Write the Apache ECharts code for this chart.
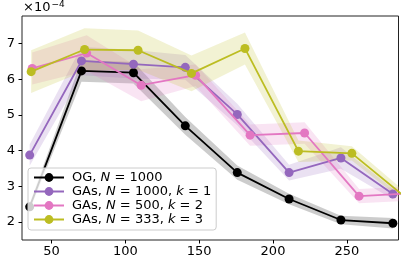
<!DOCTYPE html>
<html>
<head>
<meta charset="utf-8">
<script src="https://cdn.jsdelivr.net/npm/echarts@6/dist/echarts.min.js"></script>
<style>
html,body{margin:0;padding:0;background:#fff;}
#chart{width:417px;height:265px;}
</style>
</head>
<body>
<div id="chart"></div>
<script>
// ---- data (values in units of 1e-4) ----
const seriesNames = ['OG, N = 1000', 'GAs, N = 1000, k = 1', 'GAs, N = 500, k = 2', 'GAs, N = 333, k = 3'];
const colors = ['#000000', '#9467bd', '#e377c2', '#bcbd22'];

const xOG = [35.2, 70.3, 105.5, 140.6, 175.8, 210.9, 246.0, 281.2];
const yOG = [2.42, 6.23, 6.18, 4.69, 3.38, 2.64, 2.05, 1.96];
const sOG = [0.10, 0.30, 0.30, 0.25, 0.20, 0.15, 0.12, 0.15];

const xK1 = [35.2, 70.3, 105.5, 140.6, 175.8, 210.9, 246.0, 281.2];
const yK1 = [3.87, 6.51, 6.42, 6.33, 5.01, 3.38, 3.79, 2.78];
const sK1 = [0.30, 0.40, 0.40, 0.35, 0.30, 0.22, 0.30, 0.15];

const xK2 = [36.9, 73.8, 110.7, 147.6, 184.5, 221.4, 258.3, 295.2];
const yK2 = [6.30, 6.73, 5.83, 6.11, 4.43, 4.49, 2.72, 2.80];
const sK2 = [0.45, 0.50, 0.45, 0.30, 0.30, 0.30, 0.20, 0.20];

const xK3 = [36.2, 72.4, 108.6, 144.8, 181.0, 217.2, 253.4, 289.6];
const yK3 = [6.21, 6.83, 6.81, 6.16, 6.86, 3.98, 3.92, 2.69];
const sK3 = [0.60, 0.60, 0.55, 0.50, 0.45, 0.30, 0.20, 0.15];

const xTicks = [50, 100, 150, 200, 250];
const yTicks = [2, 3, 4, 5, 6, 7];

// ---- build ----
const FONT = 'DejaVu Sans';
const allX = [xOG, xK1, xK2, xK3];
const allY = [yOG, yK1, yK2, yK3];
const allS = [sOG, sK1, sK2, sK3];

function hexA(hex, a) {
  const r = parseInt(hex.slice(1,3),16), g = parseInt(hex.slice(3,5),16), b = parseInt(hex.slice(5,7),16);
  return 'rgba(' + r + ',' + g + ',' + b + ',' + a + ')';
}

const series = [];
// bands
for (let i = 0; i < 4; i++) {
  const xs = allX[i], ys = allY[i], ss = allS[i];
  series.push({
    type: 'custom',
    name: 'band' + i,
    coordinateSystem: 'cartesian2d',
    clip: true,
    silent: true,
    z: 1,
    data: [[xs[0], ys[0]]],
    renderItem: function (params, api) {
      const pts = [];
      for (let j = 0; j < xs.length; j++) pts.push(api.coord([xs[j], ys[j] + ss[j]]));
      for (let j = xs.length - 1; j >= 0; j--) pts.push(api.coord([xs[j], ys[j] - ss[j]]));
      return { type: 'polygon', shape: { points: pts }, style: { fill: hexA(colors[i], 0.2), stroke: null } };
    }
  });
}
// lines
for (let i = 0; i < 4; i++) {
  series.push({
    type: 'line',
    name: seriesNames[i],
    data: allX[i].map((x, j) => [x, allY[i][j]]),
    symbol: 'circle',
    symbolSize: 9,
    showSymbol: true,
    clip: true,
    z: 2 + i,
    lineStyle: { color: colors[i], width: 1.8 },
    itemStyle: { color: colors[i] },
    emphasis: { disabled: true }
  });
}

const richLegend = {
  r: { fontFamily: FONT, fontSize: 13, color: '#000', lineHeight: 13 },
  p: { fontFamily: FONT, fontSize: 13, color: '#000', lineHeight: 13, padding: [0, 0, 0, 3] },
  i: { fontFamily: FONT, fontSize: 13, color: '#000', fontStyle: 'italic', lineHeight: 13 }
};
function legendFmt(name) {
  // split on N and k to italicize
  const parts = name.split(/(N|k)(?= =)/);
  let out = '';
  parts.forEach((p, idx) => {
    if (p === 'N' || p === 'k') out += '{i|' + p + '}';
    else if (p.length) out += (idx === 0 ? '{p|' : '{r|') + p + '}';
  });
  return out;
}

const chart = echarts.init(document.getElementById('chart'), null, { renderer: 'canvas' });
chart.setOption({
  animation: false,
  backgroundColor: '#fff',
  grid: { left: 22, right: 18.5, top: 16, bottom: 25, show: true, borderColor: '#222', borderWidth: 1, backgroundColor: 'transparent', containLabel: false, outerBoundsMode: 'none' },
  xAxis: {
    type: 'value', min: 30, max: 285,
    splitLine: { show: false },
    axisLine: { show: false },
    axisTick: { show: true, inside: false, length: 3.5, lineStyle: { color: '#000', width: 1 }, customValues: xTicks },
    axisLabel: { show: true, margin: 5, fontFamily: FONT, fontSize: 13, color: '#000', customValues: xTicks }
  },
  yAxis: {
    type: 'value', min: 1.49, max: 7.77,
    splitLine: { show: false },
    axisLine: { show: false },
    axisTick: { show: true, inside: false, length: 3.5, lineStyle: { color: '#000', width: 1 }, customValues: yTicks },
    axisLabel: { show: true, margin: 7, fontFamily: FONT, fontSize: 13, color: '#000', customValues: yTicks }
  },
  legend: {
    data: seriesNames,
    orient: 'vertical',
    left: 28, top: 168,
    itemWidth: 30, itemHeight: 11, itemGap: 1,
    padding: [3, 5, 4, 5],
    backgroundColor: 'rgba(255,255,255,0.8)',
    borderColor: '#cccccc', borderWidth: 1, borderRadius: 3,
    selectedMode: false,
    formatter: legendFmt,
    textStyle: { fontFamily: FONT, fontSize: 13, color: '#000', rich: richLegend }
  },
  graphic: [{
    type: 'text', left: 23, top: 0, z: 10,
    style: {
      text: '{a|×10}{b|−4}',
      rich: {
        a: { fontFamily: FONT, fontSize: 13, fill: '#000', verticalAlign: 'bottom', lineHeight: 14 },
        b: { fontFamily: FONT, fontSize: 9, fill: '#000', verticalAlign: 'top', lineHeight: 14, padding: [0, 0, 6, 1] }
      }
    }
  }],
  series: series
});
</script>
</body>
</html>
